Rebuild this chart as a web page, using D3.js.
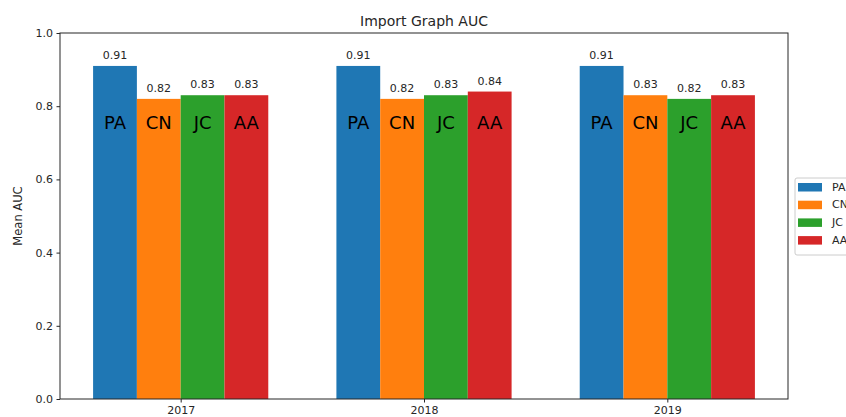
<!DOCTYPE html>
<html><head><meta charset="utf-8">
<script src="https://cdn.jsdelivr.net/npm/d3@7"></script>
<style>body{margin:0;background:#fff;overflow:hidden}text{font-family:"DejaVu Sans",sans-serif;fill:#262626}</style>
</head><body>
<script>
const years = ["2017", "2018", "2019"];
const series = ["PA", "CN", "JC", "AA"];
const PA = [0.91, 0.91, 0.91];
const CN = [0.82, 0.82, 0.83];
const JC = [0.83, 0.83, 0.82];
const AA = [0.83, 0.84, 0.83];
const yTicks = [0.0, 0.2, 0.4, 0.6, 0.8, 1.0];
const colors = ["#1f77b4", "#ff7f0e", "#2ca02c", "#d62728"];
const values = [PA, CN, JC, AA];

const W = 846, H = 417;
const mLeft = 60, mRight = 788, mTop = 33, mBottom = 399;
const bw = 0.18;
const svg = d3.select("body").append("svg").attr("width", W).attr("height", H);

const x = d3.scaleLinear().domain([-2*bw - 0.136, 2 + 2*bw + 0.136]).range([mLeft, mRight]);
const y = d3.scaleLinear().domain([0, 1]).range([mBottom, mTop]);

// bars
series.forEach((s, si) => {
  const g = svg.append("g");
  years.forEach((yr, i) => {
    const x0 = x(i + (si - 2) * bw), x1 = x(i + (si - 1) * bw);
    const v = values[si][i];
    g.append("rect").attr("x", x0).attr("y", y(v)).attr("width", x1 - x0).attr("height", y(0) - y(v)).attr("fill", colors[si]);
    g.append("text").attr("x", (x0 + x1) / 2).attr("y", y(v) - 7).attr("text-anchor", "middle")
      .attr("font-size", 11).text(v.toFixed(2));
    g.append("text").attr("x", (x0 + x1) / 2).attr("y", y(0.755)).attr("text-anchor", "middle")
      .attr("dominant-baseline", "central").attr("font-size", 18).style("fill", "#000").text(s);
  });
});

// axes
const yAxis = d3.axisLeft(y).tickValues(yTicks).tickFormat(d3.format(".1f")).tickSize(3.5).tickPadding(3.5);
const gy = svg.append("g").attr("transform", `translate(${mLeft},0)`).call(yAxis);
const xAxis = d3.axisBottom(x).tickValues([0, 1, 2]).tickFormat(i => years[i]).tickSize(3.5).tickPadding(3.5);
const gx = svg.append("g").attr("transform", `translate(0,${mBottom})`).call(xAxis);
[gy, gx].forEach(g => {
  g.select(".domain").remove();
  g.selectAll("text").attr("font-size", 11).style("font-family", "DejaVu Sans, sans-serif").style("fill", "#262626");
  g.selectAll("line").attr("stroke", "#262626");
});
svg.append("rect").attr("x", mLeft).attr("y", mTop).attr("width", mRight - mLeft).attr("height", mBottom - mTop)
  .attr("fill", "none").attr("stroke", "#262626").attr("stroke-width", 1);

// title and label
svg.append("text").attr("x", (mLeft + mRight) / 2).attr("y", 26).attr("text-anchor", "middle").attr("font-size", 14).text("Import Graph AUC");
svg.append("text").attr("transform", `translate(22,${(mTop + mBottom) / 2}) rotate(-90)`).attr("text-anchor", "middle").attr("font-size", 11.5).text("Mean AUC");

// legend
const lg = svg.append("g").attr("transform", "translate(795,178)");
lg.append("rect").attr("x", 0).attr("y", 0).attr("width", 80).attr("height", 77).attr("rx", 2)
  .attr("fill", "#fff").attr("stroke", "#ccc");
series.forEach((s, si) => {
  lg.append("rect").attr("x", 3).attr("y", 5 + si * 17.7).attr("width", 24).attr("height", 8.5).attr("fill", colors[si]);
  lg.append("text").attr("x", 37).attr("y", 9 + si * 17.7).attr("dominant-baseline", "central").attr("font-size", 11).text(s);
});
</script>
</body></html>
